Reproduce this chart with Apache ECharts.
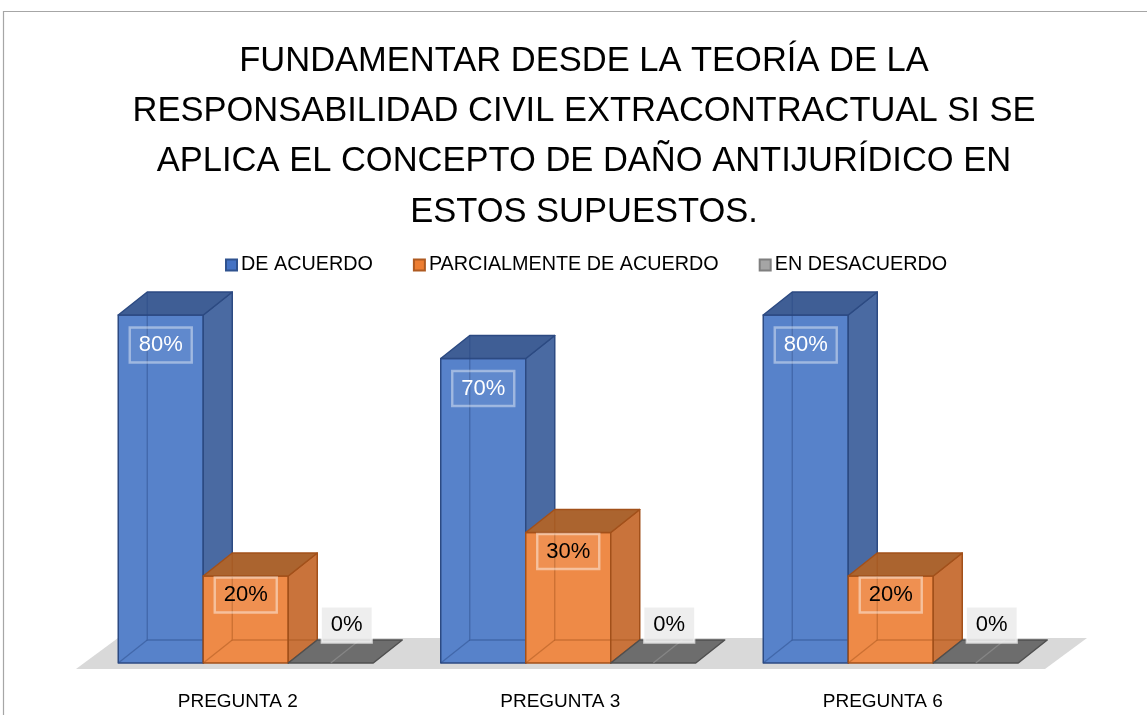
<!DOCTYPE html>
<html>
<head>
<meta charset="utf-8">
<script src="https://cdn.jsdelivr.net/npm/echarts@6/dist/echarts.min.js"></script>
<style>
html,body{margin:0;padding:0;background:#fff;}
#chart{width:1147px;height:715px;}
</style>
</head>
<body>
<div id="chart"></div>
<script>
// ---- data ----
const titleText = 'FUNDAMENTAR DESDE LA TEORÍA DE LA\nRESPONSABILIDAD CIVIL EXTRACONTRACTUAL SI SE\nAPLICA EL CONCEPTO DE DAÑO ANTIJURÍDICO EN\nESTOS SUPUESTOS.';
const categories = ['PREGUNTA 2', 'PREGUNTA 3', 'PREGUNTA 6'];
const seriesNames = ['DE ACUERDO', 'PARCIALMENTE DE ACUERDO', 'EN DESACUERDO'];
const deAcuerdo = [80, 70, 80];
const parcialmente = [20, 30, 20];
const desacuerdo = [0, 0, 0];

// ---- styles ----
const FONT = "'Liberation Sans', Arial, sans-serif";
const DX = 29, DY = -23;           // 3D depth offset
const BAR_RATIO = 85 / 322.5;      // bar width / category band
const palettes = [
  {legend:'#4472C4', legendBorder:'#2F528F', front:'#5782CA', side:'#4A6AA2', top:'#3F5E95', edge:'#2C4A82', hidden:'rgba(40,70,130,0.45)', text:'#ffffff', labelDy: 30, labelDx: 0,
   box:'rgba(255,255,255,0.06)', boxBorder:'rgba(255,255,255,0.42)'},
  {legend:'#ED7D31', legendBorder:'#AE5A21', front:'#EE8A47', side:'#C9733B', top:'#AB642F', edge:'#A2501A', hidden:'rgba(160,80,25,0.45)', text:'#000000', labelDy: 19, labelDx: 0,
   box:'rgba(255,255,255,0.06)', boxBorder:'rgba(255,255,255,0.45)'},
  {legend:'#A5A5A5', legendBorder:'#7F7F7F', front:'#6E6E6E', side:'#5E5E5E', top:'#6D6D6D', edge:'#4F4F4F', hidden:'rgba(150,150,150,0.6)', text:'#000000', labelDy: -38, labelDx: 16,
   box:'rgba(236,236,236,0.9)', boxBorder:'rgba(255,255,255,0.7)'}
];

function makeRender(si) {
  const p = palettes[si];
  return function (params, api) {
    const cat = api.value(0), v = api.value(1);
    const base = api.coord([cat, 0]);
    const topP = api.coord([cat, v]);
    const band = api.size([1, 0])[0];
    const w = band * BAR_RATIO;
    const cx = base[0] + (si - 1) * w;
    const x0 = cx - w / 2, x1 = cx + w / 2;
    const yB = base[1], yT = topP[1];
    const children = [];
    const edge = {stroke: p.edge, lineWidth: 1.5, lineJoin: 'round'};
    if (yB - yT > 0.5) {
      children.push({type: 'rect', shape: {x: x0, y: yT, width: w, height: yB - yT},
        style: Object.assign({fill: p.front}, edge)});
      children.push({type: 'polygon', shape: {points: [[x1, yB], [x1 + DX, yB + DY], [x1 + DX, yT + DY], [x1, yT]]},
        style: Object.assign({fill: p.side}, edge)});
    }
    children.push({type: 'polygon', shape: {points: [[x0, yT], [x0 + DX, yT + DY], [x1 + DX, yT + DY], [x1, yT]]},
      style: Object.assign({fill: p.top}, edge)});
    // hidden (see-through) back edges
    const hs = {stroke: p.hidden, lineWidth: 1.3, fill: 'none'};
    if (yB - yT > 0.5) {
      children.push({type: 'polyline', shape: {points: [[x0 + DX, yT + DY], [x0 + DX, yB + DY], [x1 + DX, yB + DY]]}, style: hs});
      children.push({type: 'line', shape: {x1: x0, y1: yB, x2: x0 + DX, y2: yB + DY}, style: hs});
    } else {
      children.push({type: 'line', shape: {x1: cx, y1: yB, x2: cx + DX, y2: yB + DY}, style: hs});
    }
    // data label
    const ly = (v > 0 ? yT : yB) + p.labelDy;
    children.push({type: 'text', x: cx + p.labelDx, y: ly, z2: 10,
      style: {text: v + '%', fill: p.text, font: '22px ' + FONT, align: 'center', verticalAlign: 'middle',
        backgroundColor: p.box, borderColor: p.boxBorder, borderWidth: 1.2, padding: [7, 9, 6, 9]}});
    return {type: 'group', children: children};
  };
}

function floorRender(params, api) {
  const cs = params.coordSys;
  const yB = cs.y + cs.height;
  const l = cs.x - 8.5, r = cs.x + cs.width - 7;
  const fdx = 42, fdy = -31;
  return {type: 'polygon', shape: {points: [[l, yB + 6], [r, yB + 6], [r + fdx, yB + 6 + fdy], [l + fdx, yB + 6 + fdy]]},
    style: {fill: '#D9D9D9'}};
}

const valueSets = [deAcuerdo, parcialmente, desacuerdo];
const series = [{
  type: 'custom', name: '__floor', renderItem: floorRender, data: [[0, 0]], z: 1, silent: true,
  encode: {x: 0, y: 1}
}];
valueSets.forEach((vals, si) => {
  series.push({
    type: 'custom', name: seriesNames[si], z: 2,
    renderItem: makeRender(si),
    itemStyle: {color: palettes[si].legend, borderColor: palettes[si].legendBorder, borderWidth: 1.5},
    encode: {x: 0, y: 1},
    data: vals.map((v, i) => [i, v])
  });
});

const chart = echarts.init(document.getElementById('chart'), null, {renderer: 'canvas'});
chart.setOption({
  animation: false,
  backgroundColor: '#ffffff',
  legend: {
    data: seriesNames, left: 225, top: 255, padding: 0, icon: 'rect', itemWidth: 11, itemHeight: 11, itemGap: 40,
    textStyle: {fontFamily: FONT, fontSize: 19.8, color: '#000', padding: [0, 0, 0, -1]}
  },
  grid: {left: 84.5, right: 95, top: 228, bottom: 52, containLabel: false},
  xAxis: {
    type: 'category', data: categories,
    axisLine: {show: false}, axisTick: {show: false}, splitLine: {show: false},
    axisLabel: {fontFamily: FONT, fontSize: 19, color: '#000', margin: 29, padding: [0, 16, 0, 0]}
  },
  yAxis: {type: 'value', min: 0, max: 100, show: false, splitLine: {show: false}},
  graphic: [{
    type: 'rect', shape: {x: 3.5, y: 11.5, width: 1300, height: 900}, silent: true, z: -10,
    style: {fill: 'none', stroke: '#A6A6A6', lineWidth: 1.2}
  }, {
    type: 'text', x: 584, y: 36, silent: true,
    style: {text: titleText, fill: '#000', font: '34.5px ' + FONT, align: 'center', verticalAlign: 'top', lineHeight: 50.3}
  }],
  series: series
});
</script>
</body>
</html>
